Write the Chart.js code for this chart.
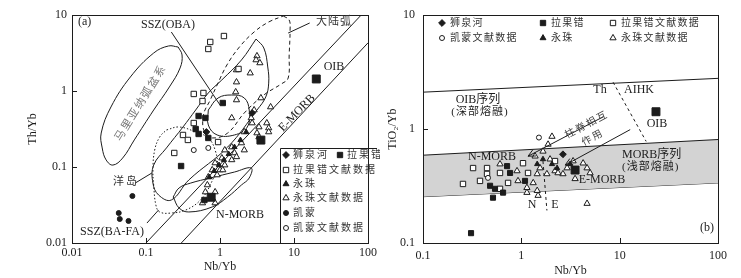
<!DOCTYPE html>
<html>
<head>
<meta charset="utf-8">
<script src="https://cdn.jsdelivr.net/npm/chart.js@4.4.0/dist/chart.umd.min.js"></script>
<style>
html, body { margin: 0; padding: 0; background: #fff; }
#wrap { position: relative; width: 741px; height: 278px; }
#ca { position: absolute; left: 0; top: 0; }
#cb { position: absolute; left: 380px; top: 0; }
</style>
</head>
<body>
<div id="wrap">
  <canvas id="ca" width="380" height="278" style="width:380px;height:278px"></canvas>
  <canvas id="cb" width="361" height="278" style="width:361px;height:278px"></canvas>
</div>
<script>
// ---------- panel (a): Th/Yb vs Nb/Yb ----------
const aTicksX = [0.01, 0.1, 1, 10, 100];
const aTicksY = [0.01, 0.1, 1, 10];

const aShiquanhe = [[0.655, 0.289], [2.72, 0.514]];
const aLaguoco = [[1.09, 0.695], [0.514, 0.469], [0.635, 0.442], [0.469, 0.316], [0.514, 0.272],
  [0.695, 0.241], [0.298, 0.103], [0.616, 0.0368]];
const aLaguocoLit = [[1.13, 5.29], [0.738, 4.42], [0.695, 3.57], [1.78, 1.95], [0.442, 0.914],
  [0.597, 0.942], [0.58, 0.738], [0.442, 0.379], [0.316, 0.264], [0.368, 0.227], [0.241, 0.153],
  [0.942, 0.213]];
const aYongzhu = [[0.716, 0.0738], [0.834, 0.0886], [0.97, 0.106], [1.13, 0.124], [1.31, 0.148],
  [1.57, 0.183], [1.89, 0.226], [2.26, 0.289]];
const aYongzhuLit = [[3.16, 2.89], [3.07, 2.56], [3.46, 2.34], [1.67, 1.89], [2.56, 1.72], [1.67, 1.31],
  [1.63, 0.97], [1.67, 0.762], [3.57, 0.809], [4.83, 0.616], [2.89, 0.562], [1.44, 0.442], [2.64, 0.442],
  [3.36, 0.336], [4.29, 0.379], [4.55, 0.326], [3.16, 0.28], [2.72, 0.379], [2.13, 0.289], [3.36, 0.248],
  [4.55, 0.289], [1.44, 0.183], [1.95, 0.207], [1.16, 0.167], [1.57, 0.153], [2.13, 0.167], [1.06, 0.131],
  [1.44, 0.124], [1.67, 0.136], [0.859, 0.113], [1.16, 0.106], [0.785, 0.0914], [1.0, 0.0914],
  [0.695, 0.0738], [0.914, 0.0785], [1.09, 0.0914], [0.635, 0.0469], [0.859, 0.0469], [0.785, 0.0391],
  [0.58, 0.0336], [0.859, 0.0336], [0.675, 0.058]];
const aKaimeng = [[0.0655, 0.0415], [0.0428, 0.0248], [0.0442, 0.0207], [0.058, 0.0195]];
const aKaimengLit = [[0.442, 0.167], [0.695, 0.178]];
const aRefs = [[0.76, 0.04], [3.57, 0.226], [20, 1.44]];   // N-MORB, E-MORB, OIB

const marianaField = [[0.272, 3.79], [0.307, 2.98], [0.289, 2.01], [0.207, 1.13], [0.127, 0.562],
  [0.0695, 0.227], [0.0483, 0.131], [0.0357, 0.106], [0.0289, 0.124], [0.0256, 0.178], [0.0248, 0.28],
  [0.0336, 0.616], [0.0615, 1.53], [0.127, 3.16], [0.201, 3.91], [0.272, 3.79]];
const ssField = [[3.07, 4.83], [3.91, 3.68], [4.42, 2.07], [4.55, 1.27], [4.15, 0.834], [3.16, 0.562],
  [1.27, 0.183], [0.379, 0.0675], [0.22, 0.0368], [0.148, 0.0428], [0.124, 0.0615], [0.127, 0.106],
  [0.189, 0.178], [0.316, 0.336], [0.469, 0.562], [0.695, 0.942], [1.06, 1.40], [1.95, 2.56], [3.07, 4.83]];
const smallField = [[0.695, 0.562], [0.942, 0.809], [1.44, 0.886], [2.13, 0.809], [2.48, 0.562],
  [2.34, 0.336], [1.57, 0.264], [0.914, 0.264], [0.695, 0.357], [0.695, 0.562]];
const nmorbField = [[0.233, 0.0403], [0.28, 0.053], [0.403, 0.0615], [0.738, 0.0716], [1.57, 0.0859],
  [2.64, 0.097], [2.48, 0.0716], [1.95, 0.058], [1.27, 0.0403], [0.785, 0.0298], [0.379, 0.0256],
  [0.28, 0.0289], [0.233, 0.0403]];
const oceanIslandField = [[0.189, 0.307], [0.28, 0.336], [0.469, 0.289], [0.695, 0.241], [0.859, 0.167],
  [0.914, 0.106], [0.738, 0.058], [0.546, 0.0368], [0.346, 0.0272], [0.22, 0.0248], [0.153, 0.0256],
  [0.136, 0.0316], [0.127, 0.058], [0.124, 0.0914], [0.131, 0.167], [0.153, 0.248], [0.189, 0.307]];
const contArcField = [[7.16, 9.7], [8.6, 8.6], [8.85, 6.35], [8.6, 2.98], [8.34, 1.48], [6.75, 1.24],
  [3.91, 0.886], [2.13, 0.514], [1.27, 0.28], [0.785, 0.241], [0.616, 0.289], [0.597, 0.483],
  [0.738, 0.762], [0.914, 1.2], [1.24, 2.2], [1.83, 3.79], [2.89, 5.97], [4.55, 8.09], [7.16, 9.7]];
const morbUpper = [[0.1, 0.01], [81, 10]];
const morbLower = [[0.3, 0.01], [100, 4.3]];
const leaderOBA = [[0.22, 5.97], [1.0, 0.655]];
const leaderArc = [[16.3, 7.85], [8.34, 5.79]];
const leaderOI = [[0.0716, 0.0615], [0.12, 0.0834]];
const leaderBAFA = [[0.103, 0.0183], [0.148, 0.0272]];

// ---------- panel (b): TiO2/Yb vs Nb/Yb ----------
const bTicksX = [0.1, 1, 10, 100];
const bTicksY = [0.1, 1, 10];

const bShiquanhe = [[2.65, 0.601]];
const bLaguoco = [[0.308, 0.122], [0.481, 0.318], [0.54, 0.299], [0.515, 0.25], [0.652, 0.277],
  [0.716, 0.473], [0.768, 0.412], [1.09, 0.351]];
const bLaguocoLit = [[0.255, 0.33], [0.323, 0.455], [0.38, 0.351], [0.448, 0.455], [0.448, 0.404],
  [0.607, 0.412], [0.607, 0.299], [0.733, 0.337], [1.04, 0.502], [1.17, 0.412], [2.2, 0.524]];
const bYongzhu = [[1.45, 0.493], [1.66, 0.544], [2.05, 0.493], [2.31, 0.455], [3.13, 0.493]];
const bYongzhuLit = [[0.607, 0.493], [0.904, 0.429], [0.925, 0.351], [1.14, 0.306], [1.14, 0.277],
  [1.45, 0.288], [1.48, 0.261], [1.32, 0.337], [1.38, 0.578], [1.66, 0.638], [1.87, 0.734], [1.96, 0.544],
  [1.55, 0.455], [1.82, 0.404], [2.2, 0.429], [1.45, 0.404], [2.92, 0.455], [3.36, 0.524], [4.25, 0.502],
  [4.66, 0.455], [5.0, 0.412], [2.65, 0.404], [2.36, 0.412], [3.52, 0.366], [4.66, 0.222], [2.05, 0.861]];
const bKaimengLit = [[0.458, 0.373], [1.51, 0.843]];
const bRefs = [[3.52, 0.437], [23.4, 1.42]];   // E-MORB, OIB

const bUpperLine = [[0.1, 2.11], [100, 2.79]];
const bandTop = [[0.1, 0.59], [100, 0.81]];
const bandBottom = [[0.1, 0.255], [100, 0.337]];
const thAihkLine = [[8.57, 2.58], [18.6, 0.78]];
const neLine = [[1.66, 0.524], [1.82, 0.193]];
const arrowN = [[6.78, 1.28], [1.17, 0.578]];
const arrowE = [[12.8, 0.99], [2.79, 0.483]];

// ---------- helpers ----------
const INK = '#1c1c1c';
const SERIF = '"Liberation Serif", "DejaVu Serif", "Noto Sans CJK SC", serif';
const pts = arr => arr.map(([x, y]) => ({ x: x, y: y }));

function pointSet(data, style, filled, r) {
  return {
    data: pts(data), showLine: false, pointStyle: style, pointRadius: r,
    pointBackgroundColor: filled ? INK : '#fff', pointBorderColor: INK, pointBorderWidth: 1, order: 1
  };
}
function lineSet(data, dash, smooth) {
  return {
    data: pts(data), showLine: true, pointRadius: 0, borderColor: INK, borderWidth: 1,
    borderDash: dash || [], tension: smooth ? 0.4 : 0, fill: false, order: 5
  };
}
function logAxis(min, max, ticks, title, titlePad, labelPad, fitSize, horizontal) {
  return {
    type: 'logarithmic', min: min, max: max,
    grid: { display: false, drawTicks: false },
    border: { display: false },
    afterBuildTicks: s => { s.ticks = ticks.map(v => ({ value: v })); },
    afterFit: s => { if (horizontal) s.height = fitSize; else s.width = fitSize; },
    ticks: { autoSkip: false, maxRotation: 0, padding: labelPad, color: INK,
      font: { family: SERIF, size: 12 }, callback: v => String(v) },
    title: { display: true, text: title, color: INK, padding: titlePad, font: { family: SERIF, size: 12 } }
  };
}

const SYM = {
  shiquanhe: ['rectRot', true, 3.4], laguoco: ['rect', true, 3.8], laguocoLit: ['rect', false, 3.8],
  yongzhu: ['triangle', true, 3.4], yongzhuLit: ['triangle', false, 3.6],
  kaimeng: ['circle', true, 2.5], kaimengLit: ['circle', false, 2.5]
};
function drawSym(ctx, key, x, y) {
  const [style, filled, r] = SYM[key];
  ctx.save();
  ctx.fillStyle = filled ? INK : '#fff';
  ctx.strokeStyle = INK;
  ctx.lineWidth = 1;
  Chart.helpers.drawPoint(ctx, { pointStyle: style, radius: r, borderWidth: 1, rotation: 0 }, x, y);
  ctx.restore();
}
function text(ctx, t, x, y, opt) {
  opt = opt || {};
  ctx.save();
  ctx.translate(x, y);
  if (opt.rot) ctx.rotate(opt.rot * Math.PI / 180);
  ctx.font = (opt.size || 12) + 'px ' + SERIF;
  ctx.fillStyle = opt.color || INK;
  ctx.letterSpacing = (opt.ls || 0) + 'px';
  ctx.textAlign = opt.align || 'center';
  ctx.textBaseline = 'middle';
  ctx.fillText(t, 0, 0);
  ctx.restore();
}
function frameAndTicks(chart, ticksX, ticksY) {
  const ctx = chart.ctx, a = chart.chartArea, sx = chart.scales.x, sy = chart.scales.y;
  ctx.save();
  ctx.strokeStyle = INK;
  ctx.lineWidth = 1;
  ctx.strokeRect(Math.round(a.left) + 0.5, Math.round(a.top) + 0.5,
    Math.round(a.right - a.left), Math.round(a.bottom - a.top));
  ctx.beginPath();
  ticksX.slice(1, -1).forEach(v => {
    const px = Math.round(sx.getPixelForValue(v)) + 0.5;
    ctx.moveTo(px, a.bottom); ctx.lineTo(px, a.bottom - 5);
  });
  ticksY.slice(1, -1).forEach(v => {
    const py = Math.round(sy.getPixelForValue(v)) + 0.5;
    ctx.moveTo(a.left, py); ctx.lineTo(a.left + 5, py);
  });
  ctx.stroke();
  ctx.restore();
}

// ---------- chart (a) ----------
const plugA = {
  id: 'decorA',
  afterDraw(chart) {
    const ctx = chart.ctx;
    frameAndTicks(chart, aTicksX, aTicksY);
    // legend box
    ctx.save();
    ctx.strokeStyle = INK; ctx.lineWidth = 1;
    ctx.beginPath();
    ctx.moveTo(280.5, 243); ctx.lineTo(280.5, 148.5); ctx.lineTo(377, 148.5);
    ctx.stroke();
    ctx.restore();
    const rows = [['shiquanhe', '狮泉河', 155], ['laguocoLit', '拉果错文献数据', 170], ['yongzhu', '永珠', 184],
      ['yongzhuLit', '永珠文献数据', 198], ['kaimeng', '凯蒙', 213], ['kaimengLit', '凯蒙文献数据', 228]];
    rows.forEach(([k, t, y]) => {
      drawSym(ctx, k, 286, y);
      text(ctx, t, 293, y, { size: 10, ls: 2, align: 'left', color: '#333' });
    });
    drawSym(ctx, 'laguoco', 340, 155);
    text(ctx, '拉果错', 347, 155, { size: 10, ls: 2, align: 'left', color: '#333' });
    // field labels
    text(ctx, '(a)', 78, 22, { align: 'left' });
    text(ctx, 'SSZ(OBA)', 168, 25);
    text(ctx, '大陆弧', 334, 22, { size: 11, ls: 1, color: '#333' });
    text(ctx, 'OIB', 334, 67);
    text(ctx, 'E-MORB', 297, 113, { rot: -46 });
    text(ctx, 'N-MORB', 240, 215);
    text(ctx, '洋岛', 126, 182, { size: 11, ls: 2, color: '#333' });
    text(ctx, 'SSZ(BA-FA)', 112, 232);
    text(ctx, '马里亚纳弧盆系', 141, 103, { size: 11, ls: 1.5, rot: -58, color: '#777' });
  }
};

new Chart(document.getElementById('ca'), {
  type: 'scatter',
  data: {
    datasets: [
      Object.assign(pointSet(aRefs, 'rect', true, 5.6), { order: 0 }),
      pointSet(aShiquanhe, 'rectRot', true, 3.4),
      pointSet(aLaguoco, 'rect', true, 3.8),
      pointSet(aYongzhu, 'triangle', true, 3.0),
      pointSet(aKaimeng, 'circle', true, 2.5),
      pointSet(aKaimengLit, 'circle', false, 2.5),
      pointSet(aLaguocoLit, 'rect', false, 3.8),
      pointSet(aYongzhuLit, 'triangle', false, 3.6),
      lineSet(marianaField, null, true),
      lineSet(ssField, null, true),
      lineSet(smallField, null, true),
      lineSet(nmorbField, null, true),
      lineSet(oceanIslandField, [1.5, 2], true),
      lineSet(contArcField, [4, 3], true),
      lineSet(morbUpper),
      lineSet(morbLower),
      lineSet(leaderOBA),
      lineSet(leaderArc),
      lineSet(leaderOI),
      lineSet(leaderBAFA)
    ]
  },
  options: {
    responsive: false,
    animation: false,
    events: [],
    layout: { padding: { left: 0, top: 15, right: 3, bottom: 0 } },
    plugins: { legend: { display: false }, tooltip: { enabled: false } },
    scales: {
      x: logAxis(0.01, 100, aTicksX, 'Nb/Yb', { top: 0, bottom: 4 }, 3, 35, true),
      y: logAxis(0.01, 10, aTicksY, 'Th/Yb', { top: 26, bottom: 0 }, 5, 72, false)
    }
  },
  plugins: [plugA]
});

// ---------- chart (b) ----------
function drawArrow(chart, seg) {
  const ctx = chart.ctx, sx = chart.scales.x, sy = chart.scales.y;
  const x1 = sx.getPixelForValue(seg[0][0]), y1 = sy.getPixelForValue(seg[0][1]);
  const x2 = sx.getPixelForValue(seg[1][0]), y2 = sy.getPixelForValue(seg[1][1]);
  const ang = Math.atan2(y2 - y1, x2 - x1);
  ctx.save();
  ctx.strokeStyle = INK; ctx.lineWidth = 1;
  ctx.beginPath();
  ctx.moveTo(x1, y1); ctx.lineTo(x2, y2);
  [0.45, -0.45].forEach(d => {
    ctx.moveTo(x2, y2);
    ctx.lineTo(x2 - 8 * Math.cos(ang + d), y2 - 8 * Math.sin(ang + d));
  });
  ctx.stroke();
  ctx.restore();
}

const plugB = {
  id: 'decorB',
  afterDraw(chart) {
    const ctx = chart.ctx;
    frameAndTicks(chart, bTicksX, bTicksY);
    drawArrow(chart, arrowN);
    drawArrow(chart, arrowE);
    // legend at top
    const items = [['shiquanhe', '狮泉河', 62, 23], ['laguoco', '拉果错', 163, 23], ['laguocoLit', '拉果错文献数据', 233, 23],
      ['kaimengLit', '凯蒙文献数据', 62, 38], ['yongzhu', '永珠', 163, 38], ['yongzhuLit', '永珠文献数据', 233, 38]];
    items.forEach(([k, t, x, y]) => {
      drawSym(ctx, k, x, y);
      text(ctx, t, x + 8, y, { size: 10, ls: 1.3, align: 'left', color: '#333' });
    });
    text(ctx, 'OIB序列', 98, 100, { size: 12 });
    text(ctx, '(深部熔融)', 100, 112, { size: 11, ls: 1 });
    text(ctx, 'Th', 220, 90);
    text(ctx, 'AIHK', 259, 90);
    text(ctx, 'OIB', 277, 124);
    text(ctx, 'N-MORB', 112, 157);
    text(ctx, 'MORB序列', 242, 155, { align: 'left' });
    text(ctx, '(浅部熔融)', 242, 167, { size: 11, ls: 1, align: 'left' });
    text(ctx, 'E-MORB', 222, 180);
    text(ctx, 'N', 152, 205);
    text(ctx, 'E', 175, 205);
    text(ctx, '(b)', 327, 228);
    text(ctx, '柱脊相互', 207, 125, { size: 10, ls: 2, rot: -28, color: '#444' });
    text(ctx, '作用', 213, 138, { size: 10, ls: 2, rot: -28, color: '#444' });
  }
};

new Chart(document.getElementById('cb'), {
  type: 'scatter',
  data: {
    datasets: [
      Object.assign(pointSet(bRefs, 'rect', true, 5.6), { order: 0 }),
      pointSet(bShiquanhe, 'rectRot', true, 3.4),
      pointSet(bLaguoco, 'rect', true, 3.6),
      pointSet(bYongzhu, 'triangle', true, 3.0),
      pointSet(bKaimengLit, 'circle', false, 2.5),
      pointSet(bLaguocoLit, 'rect', false, 3.8),
      pointSet(bYongzhuLit, 'triangle', false, 3.6),
      lineSet(bUpperLine),
      lineSet(thAihkLine, [3, 3]),
      lineSet(neLine, [3, 3]),
      Object.assign(lineSet(bandTop), { fill: '+1', backgroundColor: '#d3d3d3', order: 9 }),
      Object.assign(lineSet(bandBottom), { order: 9 })
    ]
  },
  options: {
    responsive: false,
    animation: false,
    events: [],
    layout: { padding: { left: 0, top: 12, right: 23, bottom: 0 } },
    plugins: { legend: { display: false }, tooltip: { enabled: false } },
    scales: {
      x: logAxis(0.1, 100, bTicksX, 'Nb/Yb', { top: 0, bottom: 0 }, 6, 35, true),
      y: logAxis(0.1, 10, bTicksY, 'TiO₂/Yb', { top: 6, bottom: 0 }, 8, 43, false)
    }
  },
  plugins: [plugB]
});
</script>
</body>
</html>
